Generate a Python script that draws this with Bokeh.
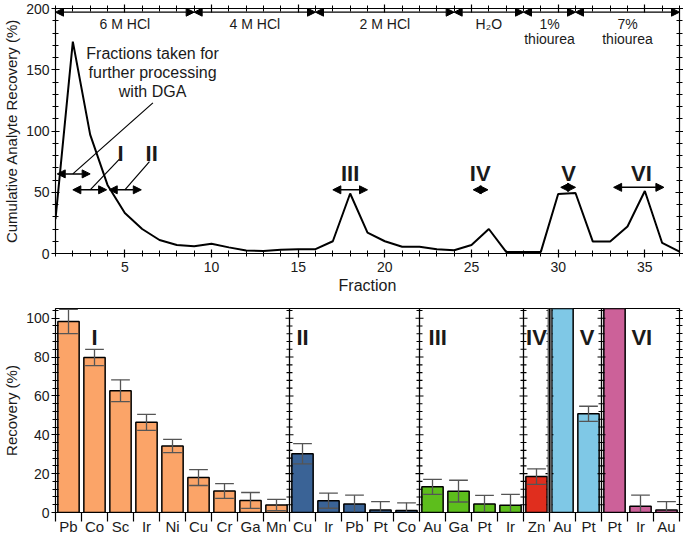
from bokeh.plotting import figure
from bokeh.models import (LinearAxis, SingleIntervalTicker, FixedTicker, Arrow, NormalHead,
                          ColumnDataSource, Range1d, Span, CustomJSTickFormatter)
from bokeh.layouts import column
from bokeh.embed import file_html
from bokeh.resources import INLINE
from bokeh.core.properties import value

FONT = "Liberation Sans"
INK = "#1a1a1a"

# ---------------- top chart data ----------------
fractions = list(range(1, 38))
cumulative_recovery = [28, 173, 97, 56, 33, 20, 11, 7, 6, 8, 5, 2.5, 2, 3, 3.5, 3.5, 10, 49, 17,
                       10, 5.5, 5.5, 3.5, 2.7, 7, 20, 1.3, 1.3, 1.3, 48.6, 49.4, 9.7, 9.7, 22, 51,
                       8.6, 1.6]

eluent_line1 = ["6 M HCl", "4 M HCl", "2 M HCl", "H₂O", "1%", "7%"]
eluent_line2 = ["", "", "", "", "thiourea", "thiourea"]
eluent_start = [1, 9, 16, 24, 28, 31]
eluent_end = [9, 16, 24, 28, 31, 37]

group_names = ["I", "II", "III", "IV", "V", "VI"]
group_frac_start = [2.0, 4.1, 17.0, 25.1, 30.15, 33.2]
group_frac_end = [3.95, 5.95, 19.0, 25.95, 31.0, 36.1]
group_arrow_y = [52, 52, 52, 52, 54, 54]
group_label_x = [4.75, 6.55, 18.0, 25.5, 30.6, 34.8]
group_label_y = [82, 82, 65.5, 65.5, 65.5, 65.5]

dga_note = ["Fractions taken for", "further processing", "with DGA"]

# ---------------- bottom chart data ----------------
elements = ["Pb", "Co", "Sc", "Ir", "Ni", "Cu", "Cr", "Ga", "Mn",
            "Cu", "Ir", "Pb", "Pt", "Co",
            "Au", "Ga", "Pt", "Ir",
            "Zn",
            "Au", "Pt",
            "Pt", "Ir", "Au"]
group_sizes = [9, 5, 4, 1, 2, 3]
recovery = [98.3, 79.8, 62.7, 46.4, 34.2, 18.0, 11.1, 6.2, 3.9,
            30.2, 6.1, 4.4, 1.3, 1.0,
            13.2, 11.0, 4.4, 3.7,
            18.5,
            112, 50.8,
            112, 3.2, 1.3]
recovery_err = [6.2, 4.2, 5.6, 4.1, 3.4, 4.1, 3.8, 4.1, 2.9,
                5.2, 3.9, 4.5, 4.3, 4.0,
                3.9, 5.6, 4.4, 5.6,
                4.0,
                None, 3.9,
                None, 5.7, 4.3]
group_colors = ["#FBA468", "#3A6396", "#5DBE1C", "#E02E1E", "#7FC8E6", "#CC6199"]
bottom_label_x = [1.5, 9.5, 14.7, 18.5, 20.45, 22.55]
bottom_label_y = 90


def blank_formatter():
    return CustomJSTickFormatter(code="return ''")


def style_axis(ax, fs="14px"):
    ax.axis_line_color = "black"
    ax.axis_line_width = 1.2
    ax.major_tick_line_color = "black"
    ax.minor_tick_line_color = "black"
    ax.major_tick_line_width = 1.2
    ax.minor_tick_line_width = 1.0
    ax.major_tick_in = 4
    ax.major_tick_out = 4
    ax.minor_tick_in = 3
    ax.minor_tick_out = 3
    ax.major_label_text_font = FONT
    ax.major_label_text_font_size = fs
    ax.major_label_text_color = INK
    ax.major_label_standoff = 2
    ax.axis_label_text_font = FONT
    ax.axis_label_text_font_style = "normal"
    ax.axis_label_text_color = INK
    ax.axis_label_text_font_size = "15px"
    ax.axis_label_standoff = 3


W = 683
LEFT = 53
RIGHT = 4

# ================= TOP FIGURE =================
p1 = figure(width=W, height=298, output_backend="svg", toolbar_location=None,
            x_range=Range1d(1, 37), y_range=Range1d(0, 200),
            min_border_left=LEFT, min_border_right=RIGHT, min_border_top=8, min_border_bottom=45)
p1.xgrid.visible = False
p1.ygrid.visible = False
p1.outline_line_color = "black"
p1.background_fill_color = "white"
p1.border_fill_color = "white"

p1.xaxis.ticker = SingleIntervalTicker(interval=5, num_minor_ticks=5)
p1.yaxis.ticker = SingleIntervalTicker(interval=50, num_minor_ticks=5)
p1.xaxis.axis_label = "Fraction"
p1.yaxis.axis_label = "Cumulative Analyte Recovery (%)"
style_axis(p1.xaxis[0])
style_axis(p1.yaxis[0])
p1.xaxis.axis_label_text_font_size = "16px"
p1.xaxis.axis_label_standoff = 2
p1.xaxis.major_label_standoff = 4

top_ax = LinearAxis(ticker=SingleIntervalTicker(interval=5, num_minor_ticks=5),
                    formatter=blank_formatter())
style_axis(top_ax)
top_ax.major_label_standoff = 0
p1.add_layout(top_ax, "above")
right_ax = LinearAxis(ticker=SingleIntervalTicker(interval=50, num_minor_ticks=5),
                      formatter=blank_formatter())
style_axis(right_ax)
right_ax.major_label_standoff = 0
p1.add_layout(right_ax, "right")

p1.line(fractions, cumulative_recovery, line_width=2, line_color="black")

# eluent arrows along the top
elu_y = 197
elu_src = ColumnDataSource(dict(x0=eluent_start, x1=eluent_end, y=[elu_y] * len(eluent_start)))
p1.add_layout(Arrow(start=NormalHead(size=8, fill_color="black", line_color="black"),
                    end=NormalHead(size=8, fill_color="black", line_color="black"),
                    x_start="x0", y_start="y", x_end="x1", y_end="y",
                    line_width=1.2, line_color="black", source=elu_src))
elu_mid = [(a + b) / 2 for a, b in zip(eluent_start, eluent_end)]
p1.text(x=elu_mid, y=[187.5] * len(elu_mid), text=eluent_line1, text_font=value(FONT),
        text_font_size="14px", text_align="center", text_baseline="middle", text_color=INK)
p1.text(x=elu_mid, y=[175] * len(elu_mid), text=eluent_line2, text_font=value(FONT),
        text_font_size="14px", text_align="center", text_baseline="middle", text_color=INK)

# DGA note + arrow
note_y = [163.5, 147.5, 132.5]
p1.text(x=[6.6] * 3, y=note_y, text=dga_note, text_font=value(FONT), text_font_size="16px",
        text_align="center", text_baseline="middle", text_color=INK)
dga_src = ColumnDataSource(dict(x0=[1.1], x1=[3.0], y=[65]))
p1.add_layout(Arrow(start=NormalHead(size=8, fill_color="black", line_color="black"),
                    end=NormalHead(size=8, fill_color="black", line_color="black"),
                    x_start="x0", y_start="y", x_end="x1", y_end="y",
                    line_width=1.5, line_color="black", source=dga_src))
# pointer lines
p1.segment(x0=[2.0, 3.0, 5.0], y0=[65, 52, 52], x1=[6.62, 4.69, 6.42], y1=[123, 77, 75],
           line_color="black", line_width=1.2)

# group arrows
grp_src = ColumnDataSource(dict(x0=group_frac_start, x1=group_frac_end, y=group_arrow_y))
p1.add_layout(Arrow(start=NormalHead(size=8, fill_color="black", line_color="black"),
                    end=NormalHead(size=8, fill_color="black", line_color="black"),
                    x_start="x0", y_start="y", x_end="x1", y_end="y",
                    line_width=1.5, line_color="black", source=grp_src))
p1.text(x=group_label_x, y=group_label_y, text=group_names, text_font=value(FONT),
        text_font_size="22px", text_font_style="bold", text_align="center",
        text_baseline="middle", text_color=INK)

# ================= BOTTOM FIGURE =================
n = len(elements)
xs = [i + 0.5 for i in range(n)]
bar_colors = []
for c, s in zip(group_colors, group_sizes):
    bar_colors += [c] * s
seps = []
acc = 0
for s in group_sizes[:-1]:
    acc += s
    seps.append(acc)

p2 = figure(width=W, height=239, output_backend="svg", toolbar_location=None,
            x_range=Range1d(0, n), y_range=Range1d(0, 105),
            min_border_left=LEFT, min_border_right=RIGHT, min_border_top=10, min_border_bottom=20)
p2.xgrid.visible = False
p2.ygrid.visible = False
p2.outline_line_color = "black"
p2.background_fill_color = "white"
p2.border_fill_color = "white"

p2.yaxis.ticker = SingleIntervalTicker(interval=20, num_minor_ticks=5)
p2.yaxis.axis_label = "Recovery (%)"
style_axis(p2.yaxis[0])
style_axis(p2.xaxis[0], fs="15px")
p2.xaxis.axis_label = None
p2.xaxis.ticker = FixedTicker(ticks=xs, minor_ticks=list(range(n + 1)))
p2.xaxis.major_label_overrides = {x: e for x, e in zip(xs, elements)}
p2.xaxis.major_tick_in = 0
p2.xaxis.major_tick_out = 0
p2.xaxis.minor_tick_in = 0
p2.xaxis.minor_tick_out = 9
p2.xaxis.minor_tick_line_width = 1.2
p2.xaxis.major_label_standoff = -4

r_ax = LinearAxis(ticker=SingleIntervalTicker(interval=20, num_minor_ticks=5),
                  formatter=blank_formatter())
style_axis(r_ax)
r_ax.major_label_standoff = 0
p2.add_layout(r_ax, "right")

p2.vbar(x=xs, top=recovery, width=0.82, fill_color=bar_colors, line_color="black",
        line_width=1.5)

# error bars
ex, elo, ehi = [], [], []
for x, v, e in zip(xs, recovery, recovery_err):
    if e is not None:
        ex.append(x)
        elo.append(v - e)
        ehi.append(v + e)
cap = 0.36
p2.segment(x0=ex, y0=elo, x1=ex, y1=ehi, line_color="#555555", line_width=1.3)
p2.segment(x0=[x - cap for x in ex], y0=ehi, x1=[x + cap for x in ex], y1=ehi,
           line_color="#555555", line_width=1.3)
p2.segment(x0=[x - cap for x in ex], y0=elo, x1=[x + cap for x in ex], y1=elo,
           line_color="#555555", line_width=1.3)

# group separators with crossing ticks
p2.add_layout(Span(location=seps[3], dimension="height", line_color="#777777", line_width=4))
for s in seps:
    p2.add_layout(Span(location=s, dimension="height", line_color="black", line_width=1.3))
px_per_unit = (W - LEFT - RIGHT) / n
maj_vals = list(range(0, 101, 20))
min_vals = [v for v in range(0, 105, 4) if v % 20 != 0]
tx0, tx1, ty = [], [], []
for s in seps:
    for v in maj_vals:
        tx0.append(s - 4 / px_per_unit)
        tx1.append(s + 4 / px_per_unit)
        ty.append(v)
    for v in min_vals:
        tx0.append(s - 3 / px_per_unit)
        tx1.append(s + 3 / px_per_unit)
        ty.append(v)
p2.segment(x0=tx0, y0=ty, x1=tx1, y1=ty, line_color="black", line_width=1.1)

p2.text(x=bottom_label_x, y=[bottom_label_y] * len(bottom_label_x), text=group_names,
        text_font=value(FONT), text_font_size="22px", text_font_style="bold",
        text_align="center", text_baseline="middle", text_color=INK)

layout = column(p1, p2)
open("out.html", "w").write(file_html(layout, INLINE))
